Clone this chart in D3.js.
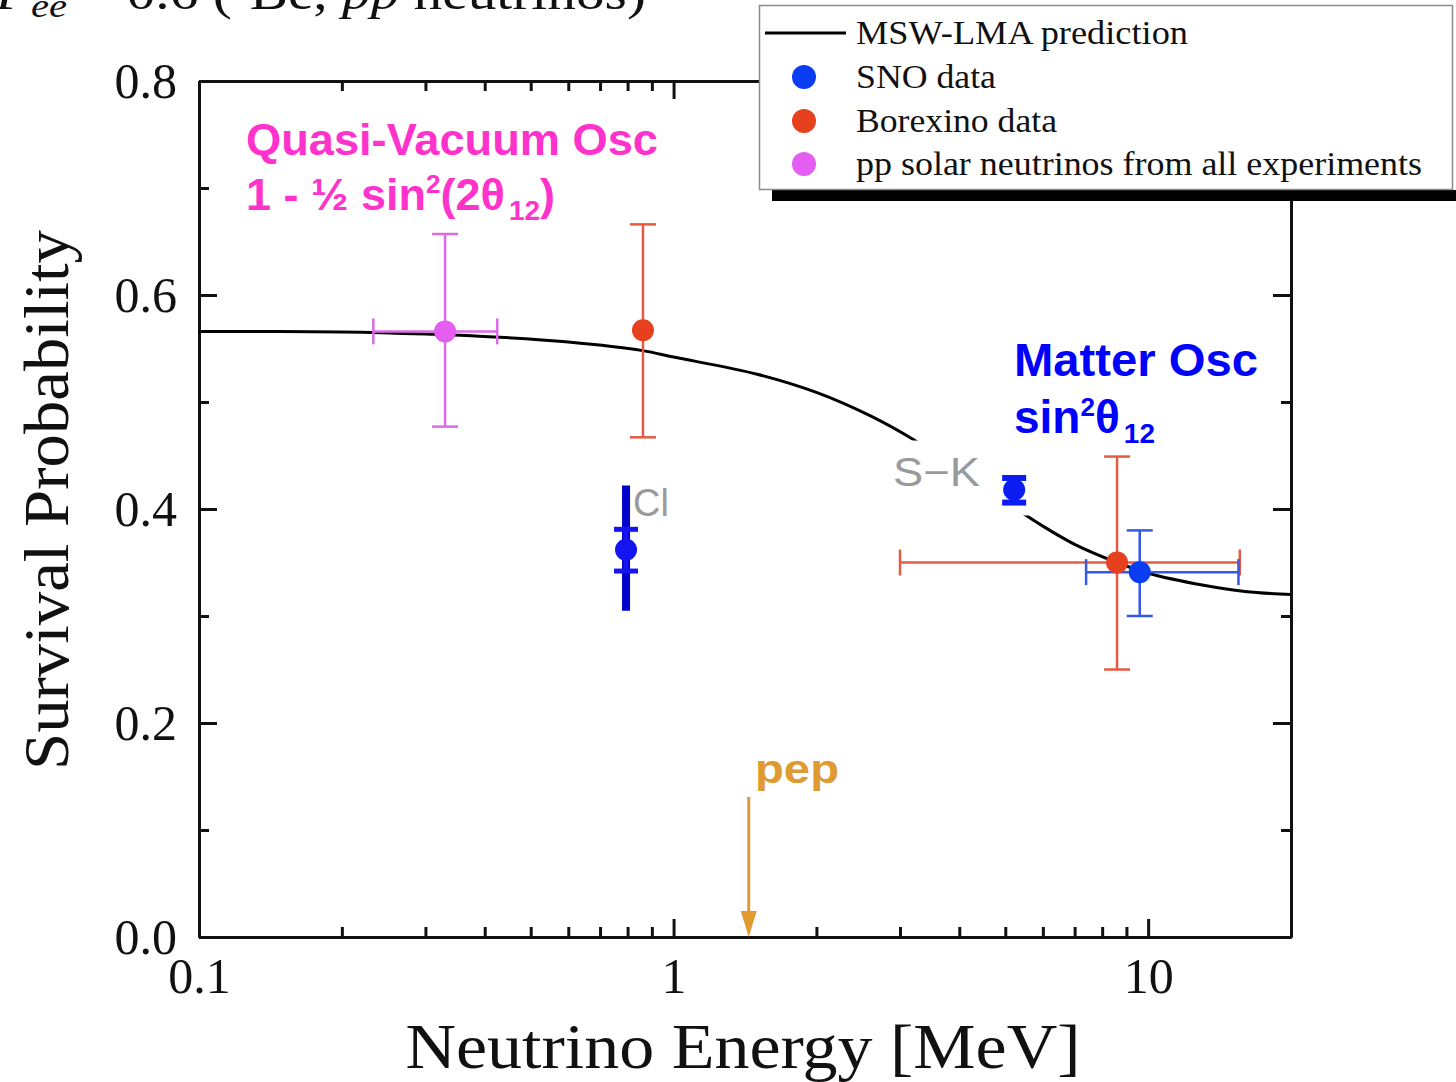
<!DOCTYPE html>
<html>
<head>
<meta charset="utf-8">
<script src="https://cdn.jsdelivr.net/npm/d3@7"></script>
<style>
  body { margin: 0; background: #fff; }
  svg { display: block; }
  .serif { font-family: "Liberation Serif", "Times New Roman", "DejaVu Serif", serif; }
  .sans { font-family: "Liberation Sans", Arial, Helvetica, sans-serif; }
</style>
</head>
<body>
<div id="chart"></div>
<script>
// MSW-LMA prediction curve
var curveE = [0.1, 0.2, 0.3, 0.43, 0.6, 0.86, 1.0, 1.5, 2.0, 2.6, 3.2, 4.0, 5.0, 6.0, 7.0, 8.6, 10, 13, 16, 20];
var curveP = [0.566, 0.5655, 0.5635, 0.5605, 0.556, 0.548, 0.542, 0.526, 0.509, 0.487, 0.465, 0.437, 0.407, 0.384, 0.367, 0.350, 0.340, 0.329, 0.323, 0.320];

// SNO data
var snoE = [9.6], snoP = [0.341], snoPlo = [0.300], snoPhi = [0.380], snoElo = [7.4], snoEhi = [15.5];
// Borexino data
var borE = [0.862, 8.6], borP = [0.567, 0.350], borPlo = [0.467, 0.250], borPhi = [0.666, 0.449];
var borElo = [null, 3.0], borEhi = [null, 15.6];
// pp solar neutrinos from all experiments
var ppE = [0.33], ppP = [0.566], ppPlo = [0.477], ppPhi = [0.657], ppElo = [0.233], ppEhi = [0.425];
// Chlorine
var clE = [0.794], clP = [0.362], clPlo = [0.342], clPhi = [0.381], clBandLo = [0.305], clBandHi = [0.422];
// Super-Kamiokande
var skE = [5.22], skP = [0.418], skPlo = [0.406], skPhi = [0.429];
// pep line energy
var pepE = 1.44;

var xMajor = [0.1, 1, 10];
var xMinor = [0.2, 0.3, 0.4, 0.5, 0.6, 0.7, 0.8, 0.9, 2, 3, 4, 5, 6, 7, 8, 9];
var yMajor = [0, 0.2, 0.4, 0.6, 0.8];
var yMinor = [0.1, 0.3, 0.5, 0.7];

var W = 1456, H = 1082;
var svg = d3.select("#chart").append("svg").attr("width", W).attr("height", H);

var x = d3.scaleLog().domain([0.1, 20]).range([199, 1291]);
var y = d3.scaleLinear().domain([0, 0.8]).range([937, 81]);

// top caption (cropped at the top edge, as in the source figure)
var cap = svg.append("text").attr("class", "serif").attr("x", -4).attr("y", 9)
  .attr("font-size", 48).attr("fill", "#111")
  .attr("textLength", 650).attr("lengthAdjust", "spacingAndGlyphs");
cap.append("tspan").attr("font-style", "italic").text("P");
cap.append("tspan").attr("font-style", "italic").attr("font-size", 34).attr("dy", 8).text("ee");
cap.append("tspan").attr("dy", -8).text(" ~ 0.6 (");
cap.append("tspan").attr("font-size", 30).attr("dy", -16).text("7");
cap.append("tspan").attr("dy", 16).text("Be, ");
cap.append("tspan").attr("font-style", "italic").text("pp");
cap.append("tspan").text(" neutrinos)");

// axes
function drawAxes() {
  var g = svg.append("g");
  var fmt = d3.format(".1f");
  g.append("g").attr("transform", "translate(0," + y(0) + ")")
    .call(d3.axisBottom(x).tickValues(xMajor).tickSizeInner(-18).tickSizeOuter(0).tickPadding(18)
      .tickFormat(function(d) { return d < 1 ? "0.1" : String(d); }))
    .call(function(a) {
      a.selectAll("text").attr("class", "serif").attr("font-size", 50).attr("fill", "#111").attr("dy", "0.75em");
    });
  g.append("g").attr("transform", "translate(0," + y(0) + ")")
    .call(d3.axisBottom(x).tickValues(xMinor).tickSizeInner(-10).tickSizeOuter(0).tickFormat(""));
  g.append("g").attr("transform", "translate(0," + y(0.8) + ")")
    .call(d3.axisTop(x).tickValues(xMajor).tickSizeInner(-18).tickSizeOuter(0).tickFormat(""));
  g.append("g").attr("transform", "translate(0," + y(0.8) + ")")
    .call(d3.axisTop(x).tickValues(xMinor).tickSizeInner(-10).tickSizeOuter(0).tickFormat(""));
  g.append("g").attr("transform", "translate(" + x(0.1) + ",0)")
    .call(d3.axisLeft(y).tickValues(yMajor).tickSizeInner(-18).tickSizeOuter(0).tickPadding(22).tickFormat(fmt))
    .call(function(a) {
      a.selectAll("text").attr("class", "serif").attr("font-size", 50).attr("fill", "#111");
    });
  g.append("g").attr("transform", "translate(" + x(0.1) + ",0)")
    .call(d3.axisLeft(y).tickValues(yMinor).tickSizeInner(-10).tickSizeOuter(0).tickFormat(""));
  g.append("g").attr("transform", "translate(" + x(20) + ",0)")
    .call(d3.axisRight(y).tickValues(yMajor).tickSizeInner(-18).tickSizeOuter(0).tickFormat(""));
  g.append("g").attr("transform", "translate(" + x(20) + ",0)")
    .call(d3.axisRight(y).tickValues(yMinor).tickSizeInner(-10).tickSizeOuter(0).tickFormat(""));
  g.selectAll(".domain").attr("stroke", "#111").attr("stroke-width", 3);
  g.selectAll(".tick line").attr("stroke", "#111").attr("stroke-width", 3);
}
drawAxes();

// axis titles
svg.append("text").attr("class", "serif")
  .attr("x", 743).attr("y", 1068).attr("text-anchor", "middle")
  .attr("font-size", 64).attr("fill", "#111")
  .attr("textLength", 675).attr("lengthAdjust", "spacingAndGlyphs")
  .text("Neutrino Energy [MeV]");
svg.append("text").attr("class", "serif")
  .attr("transform", "translate(68,500) rotate(-90)").attr("text-anchor", "middle")
  .attr("font-size", 64).attr("fill", "#111")
  .attr("textLength", 540).attr("lengthAdjust", "spacingAndGlyphs")
  .text("Survival Probability");

// prediction curve
var line = d3.line().x(function(d) { return x(d[0]); }).y(function(d) { return y(d[1]); })
  .curve(d3.curveCatmullRom.alpha(0.5));
svg.append("path").datum(d3.zip(curveE, curveP))
  .attr("d", line).attr("fill", "none").attr("stroke", "#000").attr("stroke-width", 3);

// white patch behind S-K label (covers curve as in original)
svg.append("rect").attr("x", x(2.75)).attr("y", y(0.464))
  .attr("width", x(5.64) - x(2.75)).attr("height", y(0.394) - y(0.464)).attr("fill", "#fff");

// error bars helper
function errBars(E, P, Plo, Phi, Elo, Ehi, col, sw, cap) {
  var g = svg.append("g").attr("stroke", col).attr("stroke-width", sw).attr("fill", "none");
  E.forEach(function(e, i) {
    g.append("line").attr("x1", x(e)).attr("x2", x(e)).attr("y1", y(Plo[i])).attr("y2", y(Phi[i]));
    [Plo[i], Phi[i]].forEach(function(v) {
      g.append("line").attr("x1", x(e) - cap).attr("x2", x(e) + cap).attr("y1", y(v)).attr("y2", y(v));
    });
    if (Elo && Elo[i] != null) {
      g.append("line").attr("x1", x(Elo[i])).attr("x2", x(Ehi[i])).attr("y1", y(P[i])).attr("y2", y(P[i]));
      [Elo[i], Ehi[i]].forEach(function(v) {
        g.append("line").attr("x1", x(v)).attr("x2", x(v)).attr("y1", y(P[i]) - cap).attr("y2", y(P[i]) + cap);
      });
    }
  });
}
function dots(E, P, col, r) {
  svg.append("g").selectAll("circle").data(d3.zip(E, P)).enter().append("circle")
    .attr("cx", function(d) { return x(d[0]); }).attr("cy", function(d) { return y(d[1]); })
    .attr("r", r).attr("fill", col);
}

errBars(ppE, ppP, ppPlo, ppPhi, ppElo, ppEhi, "#dc6ae8", 2.5, 13);
dots(ppE, ppP, "#e45ef2", 11);
errBars(borE, borP, borPlo, borPhi, borElo, borEhi, "#e45a44", 2.5, 13);
errBars(snoE, snoP, snoPlo, snoPhi, snoElo, snoEhi, "#3558e6", 2.5, 13);
dots(borE, borP, "#e6401e", 11);
dots(snoE, snoP, "#0a3cf2", 11);

// Chlorine: thick band + point
svg.append("g").selectAll("line").data(clE).enter().append("line")
  .attr("x1", function(d) { return x(d); }).attr("x2", function(d) { return x(d); })
  .attr("y1", function(d, i) { return y(clBandLo[i]); }).attr("y2", function(d, i) { return y(clBandHi[i]); })
  .attr("stroke", "#0000cc").attr("stroke-width", 8);
errBars(clE, clP, clPlo, clPhi, null, null, "#1414f0", 5, 12);
dots(clE, clP, "#1414f0", 11);

// Super-K
errBars(skE, skP, skPlo, skPhi, null, null, "#0a1cf2", 6, 12);
dots(skE, skP, "#0a1cf2", 11);

// gray labels
svg.append("text").attr("class", "sans").attr("x", x(clE[0]) + 7).attr("y", 516)
  .attr("font-size", 38).attr("fill", "#9a9a9a").text("Cl");
svg.append("text").attr("class", "sans").attr("x", 893).attr("y", 486)
  .attr("font-size", 40).attr("fill", "#9a9a9a")
  .attr("textLength", 87).attr("lengthAdjust", "spacingAndGlyphs").text("S\u2212K");

// annotations
var qv = svg.append("g").attr("class", "sans").attr("font-weight", "bold").attr("fill", "#ff33cc");
qv.append("text").attr("x", 246).attr("y", 155).attr("font-size", 45)
  .attr("textLength", 412).attr("lengthAdjust", "spacingAndGlyphs").text("Quasi-Vacuum Osc");
var qv2 = qv.append("text").attr("x", 246).attr("y", 210).attr("font-size", 45);
qv2.append("tspan").text("1 - \u00bd sin");
qv2.append("tspan").attr("font-size", 26).attr("dy", -17).text("2");
qv2.append("tspan").attr("dy", 17).text("(2\u03b8");
qv2.append("tspan").attr("font-size", 28).attr("dy", 10).attr("dx", 4).text("12");
qv2.append("tspan").attr("dy", -10).text(")");

var mo = svg.append("g").attr("class", "sans").attr("font-weight", "bold").attr("fill", "#0000ff");
mo.append("text").attr("x", 1014).attr("y", 376).attr("font-size", 46)
  .attr("textLength", 244).attr("lengthAdjust", "spacingAndGlyphs").text("Matter Osc");
var mo2 = mo.append("text").attr("x", 1014).attr("y", 433).attr("font-size", 46);
mo2.append("tspan").text("sin");
mo2.append("tspan").attr("font-size", 26).attr("dy", -17).text("2");
mo2.append("tspan").attr("dy", 17).text("\u03b8");
mo2.append("tspan").attr("font-size", 28).attr("dy", 10).attr("dx", 4).text("12");

// pep arrow
var pepCol = "#e09a32";
svg.append("line").attr("x1", x(pepE)).attr("x2", x(pepE)).attr("y1", 797).attr("y2", y(0) - 22)
  .attr("stroke", pepCol).attr("stroke-width", 3);
svg.append("path")
  .attr("d", "M" + (x(pepE) - 8) + "," + (y(0) - 26) + "L" + (x(pepE) + 8) + "," + (y(0) - 26) + "L" + x(pepE) + "," + y(0) + "Z")
  .attr("fill", pepCol);
svg.append("text").attr("class", "sans").attr("font-weight", "bold").attr("x", 755).attr("y", 783)
  .attr("font-size", 40).attr("fill", pepCol)
  .attr("textLength", 84).attr("lengthAdjust", "spacingAndGlyphs").text("pep");

// legend
var lg = svg.append("g");
lg.append("rect").attr("x", 772).attr("y", 190).attr("width", 700).attr("height", 11).attr("fill", "#000");
lg.append("rect").attr("x", 759.5).attr("y", 5.5).attr("width", 693).attr("height", 184)
  .attr("fill", "#fff").attr("stroke", "#8a8a8a").attr("stroke-width", 1.5);
var legItems = ["MSW-LMA prediction", "SNO data", "Borexino data", "pp solar neutrinos from all experiments"];
var legWidths = [332, 140, 201, 566];
var legCols = [null, "#0a3cf2", "#e6401e", "#e45ef2"];
var legY = [33, 77, 121, 164];
lg.append("line").attr("x1", 765).attr("x2", 846).attr("y1", legY[0]).attr("y2", legY[0])
  .attr("stroke", "#000").attr("stroke-width", 3);
legItems.forEach(function(t, i) {
  if (legCols[i]) {
    lg.append("circle").attr("cx", 804).attr("cy", legY[i]).attr("r", 12).attr("fill", legCols[i]);
  }
  lg.append("text").attr("class", "serif").attr("x", 856).attr("y", legY[i] + 11)
    .attr("font-size", 34).attr("fill", "#111")
    .attr("textLength", legWidths[i]).attr("lengthAdjust", "spacingAndGlyphs").text(t);
});
</script>
</body>
</html>
